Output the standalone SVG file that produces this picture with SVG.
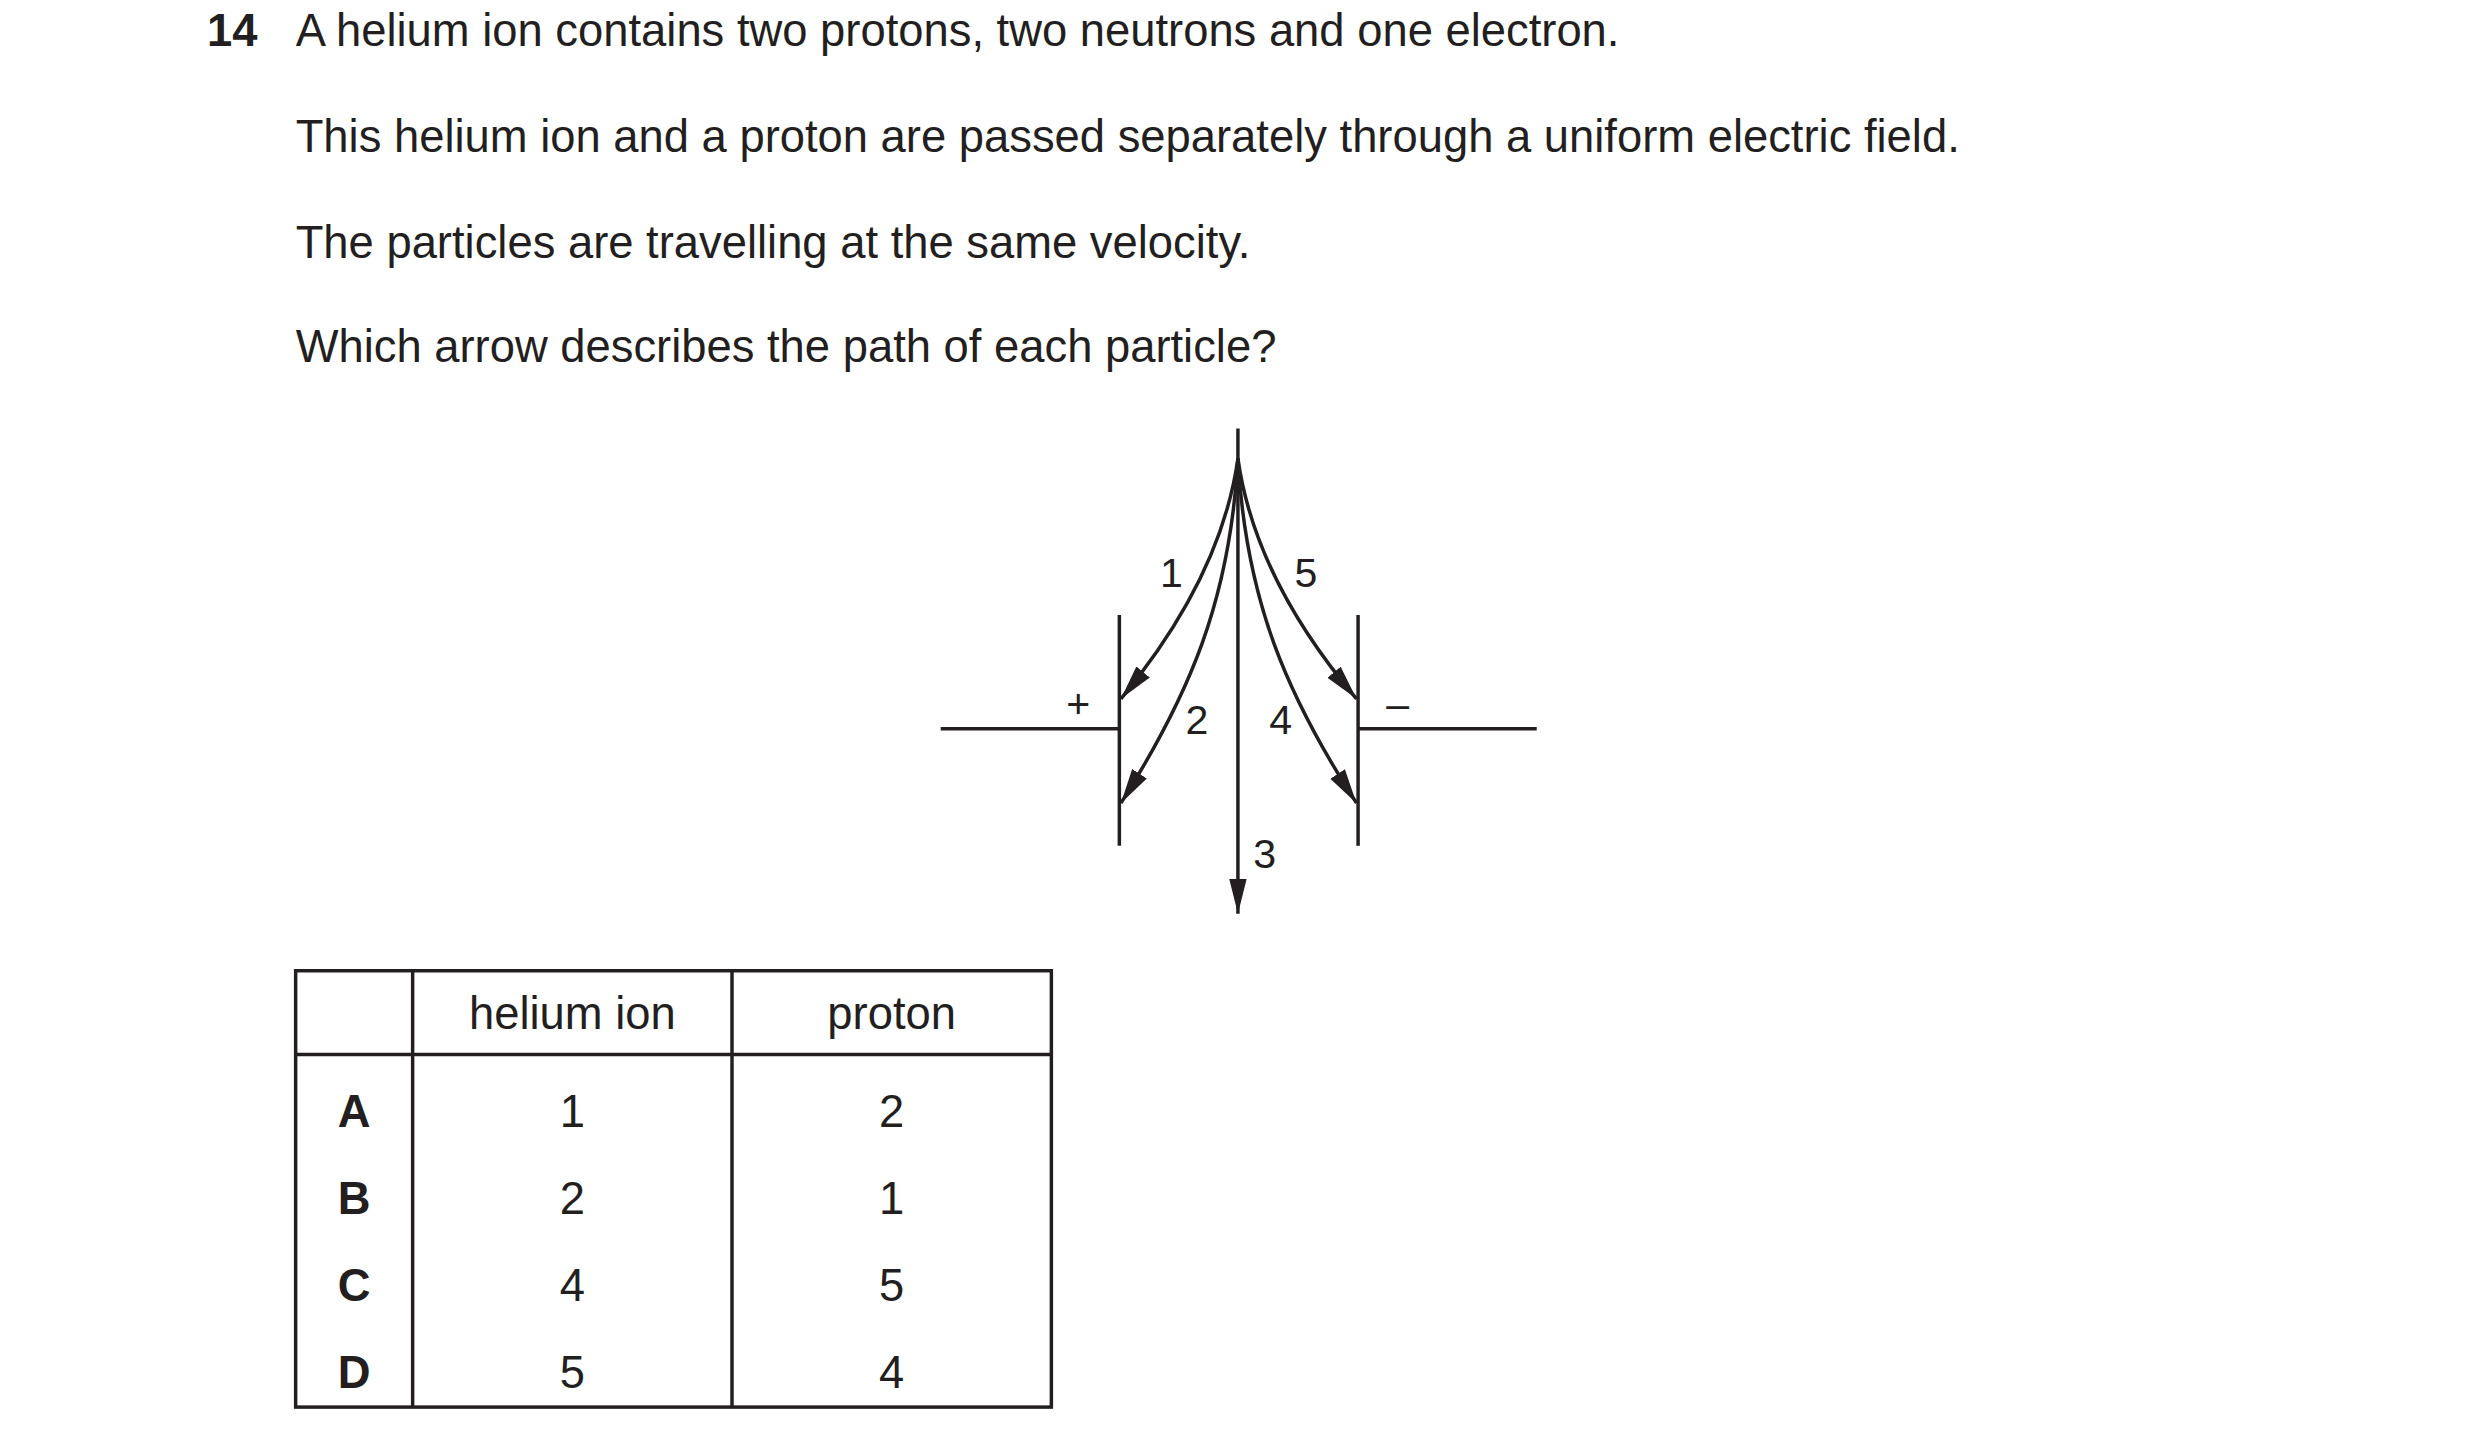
<svg xmlns="http://www.w3.org/2000/svg" width="2480" height="1448" viewBox="0 0 2480 1448">
<style>
text{font-family:"Liberation Sans",Arial,sans-serif;fill:#231f20}
.q{font-size:28.7px}
.l{font-size:26px}
.b{font-weight:bold}
.ln{stroke:#231f20;stroke-width:2.2;fill:none}
</style>
<defs>
<marker id="ahb" viewBox="0 0 10 10" refX="10" refY="5" markerWidth="22" markerHeight="22" markerUnits="userSpaceOnUse" orient="auto"><path d="M0,2.5 L10,5 L0,7.5 z" fill="#231f20"/></marker>
</defs>
<rect width="2480" height="1448" fill="#fff"/>
<g transform="scale(1.581)">
<g id="question">
<text class="q b" x="131" y="29">14</text>
<text class="q" x="187" y="29">A helium ion contains two protons, two neutrons and one electron.</text>
<text class="q" x="187" y="96">This helium ion and a proton are passed separately through a uniform electric field.</text>
<text class="q" x="187" y="163">The particles are travelling at the same velocity.</text>
<text class="q" x="187" y="229">Which arrow describes the path of each particle?</text>
</g>
<g id="plates">
<line class="ln" x1="595" y1="461" x2="708" y2="461"/>
<line class="ln" x1="708" y1="389" x2="708" y2="535"/>
<line class="ln" x1="859" y1="389" x2="859" y2="535"/>
<line class="ln" x1="859" y1="461" x2="972" y2="461"/>
<text class="l" x="682" y="454" text-anchor="middle">+</text>
<text class="l" x="884" y="454" text-anchor="middle">–</text>
</g>
<g id="connectors">
<line class="ln" x1="783" y1="271" x2="783" y2="578" marker-end="url(#ahb)"/>
<path class="ln" d="M783,290 C776,340 752,390 709,442" marker-end="url(#ahb)"/>
<path class="ln" d="M783,290 C778,380 752,440 709,508" marker-end="url(#ahb)"/>
<path class="ln" d="M783,290 C790,340 814,390 858,442" marker-end="url(#ahb)"/>
<path class="ln" d="M783,290 C788,380 814,440 858,508" marker-end="url(#ahb)"/>
</g>
<g id="labels">
<text class="l" x="741" y="371" text-anchor="middle">1</text>
<text class="l" x="826" y="371" text-anchor="middle">5</text>
<text class="l" x="757" y="464" text-anchor="middle">2</text>
<text class="l" x="810" y="464" text-anchor="middle">4</text>
<text class="l" x="800" y="549" text-anchor="middle">3</text>
</g>
<g id="table">
<rect class="ln" x="187" y="614" width="478" height="276" stroke-width="1.6"/>
<line class="ln" x1="261" y1="614" x2="261" y2="890" stroke-width="1.6"/>
<line class="ln" x1="463" y1="614" x2="463" y2="890" stroke-width="1.6"/>
<line class="ln" x1="187" y1="667" x2="665" y2="667" stroke-width="1.6"/>
<g class="q" text-anchor="middle">
<text x="362" y="651">helium ion</text>
<text x="564" y="651">proton</text>
<text class="b" x="224" y="713">A</text><text x="362" y="713">1</text><text x="564" y="713">2</text>
<text class="b" x="224" y="768">B</text><text x="362" y="768">2</text><text x="564" y="768">1</text>
<text class="b" x="224" y="823">C</text><text x="362" y="823">4</text><text x="564" y="823">5</text>
<text class="b" x="224" y="878">D</text><text x="362" y="878">5</text><text x="564" y="878">4</text>
</g>
</g>
</g>
</svg>
